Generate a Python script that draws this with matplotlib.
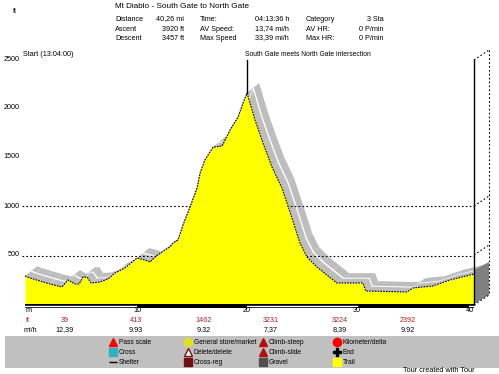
import matplotlib
matplotlib.use("Agg")
import matplotlib.pyplot as plt
import numpy as np

plt.rcParams['font.family'] = ['Liberation Sans', 'DejaVu Sans']

km = [0, .45, 1.35, 2.25, 3.15, 3.33, 3.87, 4.5, 4.86, 5.23, 5.59, 5.95, 6.76, 7.48, 8.11, 9.0,
      10.09, 10.81, 11.26, 11.71, 12.61, 13.06, 13.33, 13.78, 14.23, 14.86, 15.5, 15.77, 16.2,
      16.94, 17.75, 18.47, 19.19, 19.64, 20, 20.72, 21.44, 22.25, 23.15, 23.96, 24.77, 25.4,
      26.3, 27.2, 28.1, 30.45, 30.7, 34.4, 34.95, 36.75, 38.3, 40.45]
ft = [294, 274, 243, 213, 188, 183, 254, 213, 213, 284, 284, 223, 233, 264, 324, 375,
      477, 456, 436, 487, 558, 588, 629, 659, 811, 994, 1186, 1338, 1470,
      1602, 1612, 1775, 1906, 2048, 2150, 1876, 1643, 1399, 1186, 913, 629, 487,
      385, 304, 223, 223, 142, 132, 172, 193, 254, 314]

y_ticks = [500, 1000, 1500, 2000, 2500]
x_ticks = [10, 20, 30, 40]
title = "Mt Diablo - South Gate to North Gate"
stats = [("Distance", "40,26 mi", "Time:", "04:13:36 h", "Category", "3 Sta"),
         ("Ascent", "3920 ft", "AV Speed:", "13,74 mi/h", "AV HR:", "0 P/min"),
         ("Descent", "3457 ft", "Max Speed", "33,39 mi/h", "Max HR:", "0 P/min")]
seg_ft = ["39", "413", "1462", "3231", "3224", "2392"]
seg_speed = ["12,39", "9.93", "9.32", "7,37", "8,39", "9.92"]
legend_cols = [["Pass scale", "Cross", "Shelter"],
               ["General store/market", "Delete/delete", "Cross-reg"],
               ["Climb-steep", "Climb-slide", "Gravel"],
               ["Kilometer/delta", "End", "Trail"]]

W, H = 499, 374
fig = plt.figure(figsize=(W / 100, H / 100), dpi=100, facecolor='white')

# pixel overlay axes
px = fig.add_axes([0, 0, 1, 1], zorder=3)
px.set_xlim(0, W); px.set_ylim(H, 0); px.axis('off'); px.patch.set_alpha(0)

# data axes: plot region pixels 25..474 x, 59..305 y
L, R, T, B = 25, 474, 59, 305
ax = fig.add_axes([L / W, 1 - B / H, (R - L) / W, (B - T) / H], zorder=2)
ax.set_xlim(0, (R - L) / 11.1)
ax.set_ylim(0, 2500 * (B - T) / 246.5)
ax.axis('off')
k = np.array(km); f = np.array(ft)

def sweep(d0, d1, color, z):
    for i in range(len(k) - 1):
        xs = [k[i] + d0[0], k[i + 1] + d0[0], k[i + 1] + d1[0], k[i] + d1[0]]
        ys = [f[i] + d0[1], f[i + 1] + d0[1], f[i + 1] + d1[1], f[i] + d1[1]]
        ax.fill(xs, ys, color=color, lw=0, zorder=z, clip_on=False)

sweep((0, 0), (1.1, 100), '#bdbdbd', 1)
sweep((0.52, 44), (0.62, 54), 'white', 1.5)
for v in (500, 1000):
    ax.plot([-3 / 11.1, (R - L) / 11.1], [v, v], color='black', lw=0.8, ls=(0, (1.5, 2)), zorder=2, clip_on=False)
ax.fill_between(k, 0, f, color='#ffff00', lw=0, zorder=3)
ax.plot(k, f, color='black', lw=0.8, ls=(0, (1.5, 1)), zorder=4)

# 3D box at right
px.fill([474, 489, 489, 474], [270, 262, 295, 304], color='#808080', lw=0, zorder=1)
px.plot([474, 474], [60, 305], color='black', lw=1)
px.plot([489, 489], [50, 295], color='black', lw=0.8, ls=(0, (1.5, 2)))
for a, b in [(60, 50), (206, 196), (255, 245), (305, 295)]:
    px.plot([474, 489], [a, b], color='black', lw=0.8, ls=(0, (1.5, 2)))

# baseline
px.fill([25, 474, 474, 25], [304, 304, 308, 308], color='black', lw=0)
for a, b in [(25, 136), (247, 357), (469, 474)]:
    px.plot([a, b], [306, 306], color='white', lw=1)
px.plot([247, 247], [60, 93], color='black', lw=1)

fs = 5.2
px.text(15, 11, "ft", fontsize=fs, ha='center', va='center')
for v, y in zip(y_ticks, [255, 206, 156, 107, 59]):
    px.text(20, y, str(v), fontsize=fs, ha='right', va='center')
px.text(23, 54, "Start (13:04:00)", fontsize=fs, va='center')
px.text(245, 54, "South Gate meets North Gate intersection", fontsize=4.9, va='center')
px.text(115, 6.5, title, fontsize=5.9, va='center')
for row, y in zip(stats, [19, 29, 38]):
    px.text(115, y, row[0], fontsize=fs, va='center')
    px.text(184, y, row[1], fontsize=fs, va='center', ha='right')
    px.text(200, y, row[2], fontsize=fs, va='center')
    px.text(289, y, row[3], fontsize=fs, va='center', ha='right')
    px.text(306, y, row[4], fontsize=fs, va='center')
    px.text(384, y, row[5], fontsize=fs, va='center', ha='right')

px.text(26, 311, "m", fontsize=fs, va='center')
for v, x in zip(x_ticks, [137, 247, 357, 470]):
    px.text(x, 311, str(v), fontsize=fs, ha='center', va='center')
red = '#b02020'
px.text(26, 321, "ft", fontsize=fs, va='center', color=red)
px.text(24, 330, "mi/h", fontsize=fs, va='center')
for a, b, x in zip(seg_ft, seg_speed, [65, 136, 204, 271, 340, 408]):
    px.text(x, 321, a, fontsize=fs, ha='center', va='center', color=red)
    px.text(x, 330, b, fontsize=fs, ha='center', va='center')

# legend
px.fill([5, 499, 499, 5], [336, 336, 368, 368], color='#c0c0c0', lw=0, zorder=0)
icons = [[('^', 'red'), ('s', '#30b0c0'), ('_', 'black')],
         [('o', '#e0e020'), ('^', 'white'), ('s', '#701010')],
         [('^', '#b01010'), ('^', '#b01010'), ('s', '#505050')],
         [('o', 'red'), ('P', 'black'), ('s', '#ffff00')]]
for names, ics, x in zip(legend_cols, icons, [113, 188, 263, 337]):
    for n, (m, c), y in zip(names, ics, [342, 352, 362]):
        px.plot([x], [y], marker=m, color=c, ms=6, mec='#801010' if c == 'white' else c, ls='none')
        px.text(x + 6, y, n, fontsize=4.8, va='center')
px.text(403, 371, "Tour created with Tour", fontsize=5.3, va='center')

fig.savefig("out.png", dpi=100, facecolor='white')
